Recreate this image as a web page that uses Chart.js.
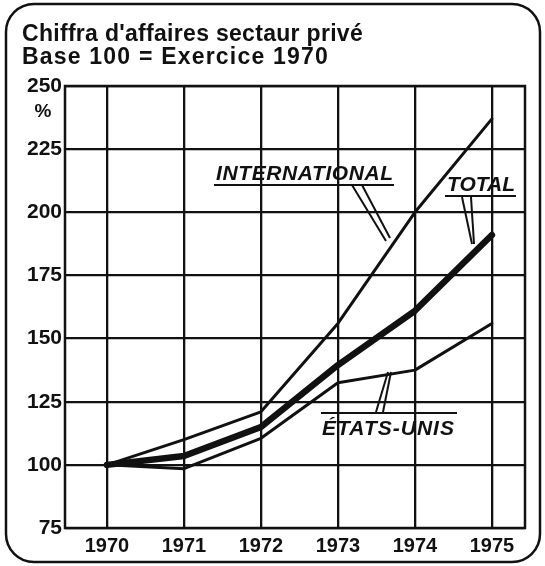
<!DOCTYPE html>
<html lang="fr">
<head>
<meta charset="utf-8">
<title>Chiffre d'affaires secteur privé</title>
<script src="https://cdn.jsdelivr.net/npm/chart.js@4.4.1/dist/chart.umd.min.js"></script>
<style>
  html, body { margin: 0; padding: 0; background: #fff; }
  #wrap { position: relative; width: 545px; height: 566px; }
</style>
</head>
<body>
<div id="wrap"><canvas id="chart" width="545" height="566"></canvas></div>
<script>
// ===== data =====
const years = [1970, 1971, 1972, 1973, 1974, 1975];
const international = [100, 110, 121, 156, 200, 237];
const total = [100, 103.5, 115, 139.5, 161, 191];
const etatsUnis = [100, 98.5, 110.5, 132.5, 137.5, 156];
const yTicks = [75, 100, 125, 150, 175, 200, 225, 250];
const titleLines = ["Chiffra d'affaires sectaur privé", 'Base 100 = Exercice 1970'];

const INK = '#111';
const FONT = '"Liberation Sans", Arial, sans-serif';

const pts = arr => arr.map((v, i) => ({ x: years[i], y: v }));

function line(data, width) {
  return {
    data: pts(data), borderColor: INK, borderWidth: width,
    pointRadius: 0, tension: 0, fill: false,
    borderCapStyle: 'round', borderJoinStyle: 'round'
  };
}

// frame, title, box, labels and their leaders
const decor = {
  id: 'decor',
  beforeDraw(chart) {
    const c = chart.ctx;
    c.save();
    c.strokeStyle = INK;
    c.lineWidth = 2.5;
    c.beginPath();
    c.roundRect(6, 4, 534, 558, 28);
    c.stroke();

    c.fillStyle = INK;
    c.font = 'bold 23px ' + FONT;
    c.textBaseline = 'alphabetic';
    c.letterSpacing = '0.3px';
    c.fillText(titleLines[0], 22, 41);
    c.letterSpacing = '1.2px';
    c.fillText(titleLines[1], 22, 64);
    c.letterSpacing = '0px';

    c.font = 'bold 19px ' + FONT;
    c.textAlign = 'center';
    c.fillText('%', 43, 117);
    c.restore();
  },
  afterDatasetsDraw(chart) {
    const c = chart.ctx, a = chart.chartArea;
    c.save();
    c.strokeStyle = INK;
    c.fillStyle = INK;
    c.lineWidth = 2.5;
    c.strokeRect(a.left, a.top, a.right - a.left, a.bottom - a.top);

    c.font = 'italic bold 21px ' + FONT;
    c.textBaseline = 'alphabetic';
    c.lineWidth = 2;

    const seg = (x0, y0, x1, y1) => { c.beginPath(); c.moveTo(x0, y0); c.lineTo(x1, y1); c.stroke(); };

    // INTERNATIONAL
    c.letterSpacing = '0.6px';
    c.fillText('INTERNATIONAL', 216, 180);
    seg(214, 185, 394, 185);
    seg(352, 185, 386, 241);
    seg(362, 185, 390, 238);

    // TOTAL
    c.letterSpacing = '0px';
    c.fillText('TOTAL', 447, 191);
    seg(445, 196, 516, 196);
    seg(462, 197, 472, 244);
    seg(471, 197, 474, 244);

    // ÉTATS-UNIS
    c.letterSpacing = '1px';
    c.fillText('ÉTATS-UNIS', 322, 435);
    seg(321, 413, 457, 413);
    seg(376, 412, 388, 372);
    seg(383, 412, 391, 372);
    c.letterSpacing = '0px';
    c.restore();
  }
};

new Chart(document.getElementById('chart'), {
  type: 'line',
  data: {
    datasets: [
      line(international, 3),
      line(etatsUnis, 3),
      line(total, 6.5)
    ]
  },
  options: {
    responsive: false,
    animation: false,
    layout: { padding: { left: 0, top: 86, right: 20, bottom: 0 } },
    plugins: { legend: { display: false }, tooltip: { enabled: false }, title: { display: false } },
    scales: {
      x: {
        type: 'linear',
        min: 1969.455, max: 1975.43,
        afterBuildTicks: s => { s.ticks = years.map(v => ({ value: v })); },
        afterFit: s => { s.height = 38; },
        grid: { color: INK, lineWidth: 2.3, drawTicks: false },
        border: { display: false },
        ticks: {
          color: INK, padding: 6,
          font: { family: FONT, size: 20, weight: 'bold' },
          callback: v => String(v)
        }
      },
      y: {
        min: 75, max: 250,
        afterBuildTicks: s => { s.ticks = yTicks.map(v => ({ value: v })); },
        afterFit: s => { s.width = 65; },
        grid: { color: INK, lineWidth: 2.3, drawTicks: false },
        border: { display: false },
        ticks: {
          color: INK, padding: 3,
          font: { family: FONT, size: 21, weight: 'bold' }
        }
      }
    }
  },
  plugins: [decor]
});
</script>
</body>
</html>
